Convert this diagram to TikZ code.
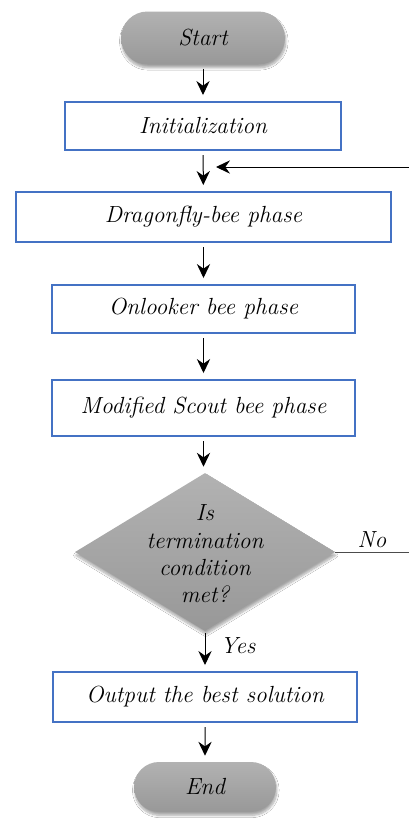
\documentclass[tikz,border=0pt]{standalone}
\usetikzlibrary{shapes.geometric,shapes.misc,arrows.meta,shadows.blur}
\definecolor{boxblue}{HTML}{4472C4}
\definecolor{gtop}{HTML}{B2B2B2}
\definecolor{gbot}{HTML}{989898}
\begin{document}
\begin{tikzpicture}[x=0.75pt,y=-0.75pt,
  txt/.style={font=\fontsize{17.5}{20.5}\selectfont\itshape, text=black},
  term/.style={rounded rectangle, draw=none, top color=gtop, bottom color=gbot,
     blur shadow={shadow xshift=0.6pt, shadow yshift=-2.5pt, shadow blur steps=8, shadow opacity=35},
     txt, inner sep=0pt},
  proc/.style={rectangle, draw=boxblue, line width=1.5pt, fill=white, txt, inner sep=0pt},
  dec/.style={diamond, draw=none, top color=gtop, bottom color=gbot, inner sep=0pt,
     blur shadow={shadow xshift=0.6pt, shadow yshift=-2.5pt, shadow blur steps=8, shadow opacity=35}},
  arr/.style={-{Stealth[length=10.5pt,width=10pt,inset=3.5pt]}, line width=0.75pt, shorten <=3pt, shorten >=4.5pt},
  lab/.style={txt}
]
\fill[white] (0,0) rectangle (409,819);
\useasboundingbox (0,0) rectangle (409,819);

\node[term, minimum width=123pt, minimum height=39.75pt] (start) at (203,38) {Start};
\node[proc, minimum width=207pt, minimum height=36pt] (init) at (203,126) {Initialization};
\node[proc, minimum width=281.25pt, minimum height=37.5pt] (drag) at (203.5,217) {Dragonfly-bee phase};
\node[proc, minimum width=227.25pt, minimum height=36pt] (onl) at (203.5,309) {Onlooker bee phase};
\node[proc, minimum width=227.25pt, minimum height=42pt] (mod) at (203.5,408) {Modified Scout bee phase};
\node[dec, minimum width=195pt, minimum height=118.5pt] (q) at (205,552) {};
\node[txt, align=center, inner sep=0pt] (qtext) at (205,554) {Is\\termination\\condition\\met?};
\node[proc, minimum width=228pt, minimum height=37.5pt] (out) at (205,697) {Output the best solution};
\node[term, minimum width=106.5pt, minimum height=37.5pt] (end) at (205,787) {End};

\coordinate (fbR) at (409,167);
\coordinate (fbL) at (216,167);
\coordinate (noR) at (409,552);

\draw[arr] (start.south -| init.north) -- (init.north);
\draw[arr] (init) -- (drag);
\draw[arr] (drag) -- (onl);
\draw[arr] (onl) -- (mod);
\draw[arr] (mod.south) -- (mod.south |- q.north);
\draw[arr, shorten <=1.5pt] (q) -- (out);
\draw[arr] (out) -- (end);
\draw[arr, shorten <=0pt, shorten >=0pt] (fbR) -- (fbL);
\draw[line width=0.6pt, gray!60!black] (q.east) -- (noR);

\node[lab, anchor=center] (no) at (372,540) {No};
\node[lab, anchor=center] (yes) at (238,646) {Yes};
\end{tikzpicture}
\end{document}
